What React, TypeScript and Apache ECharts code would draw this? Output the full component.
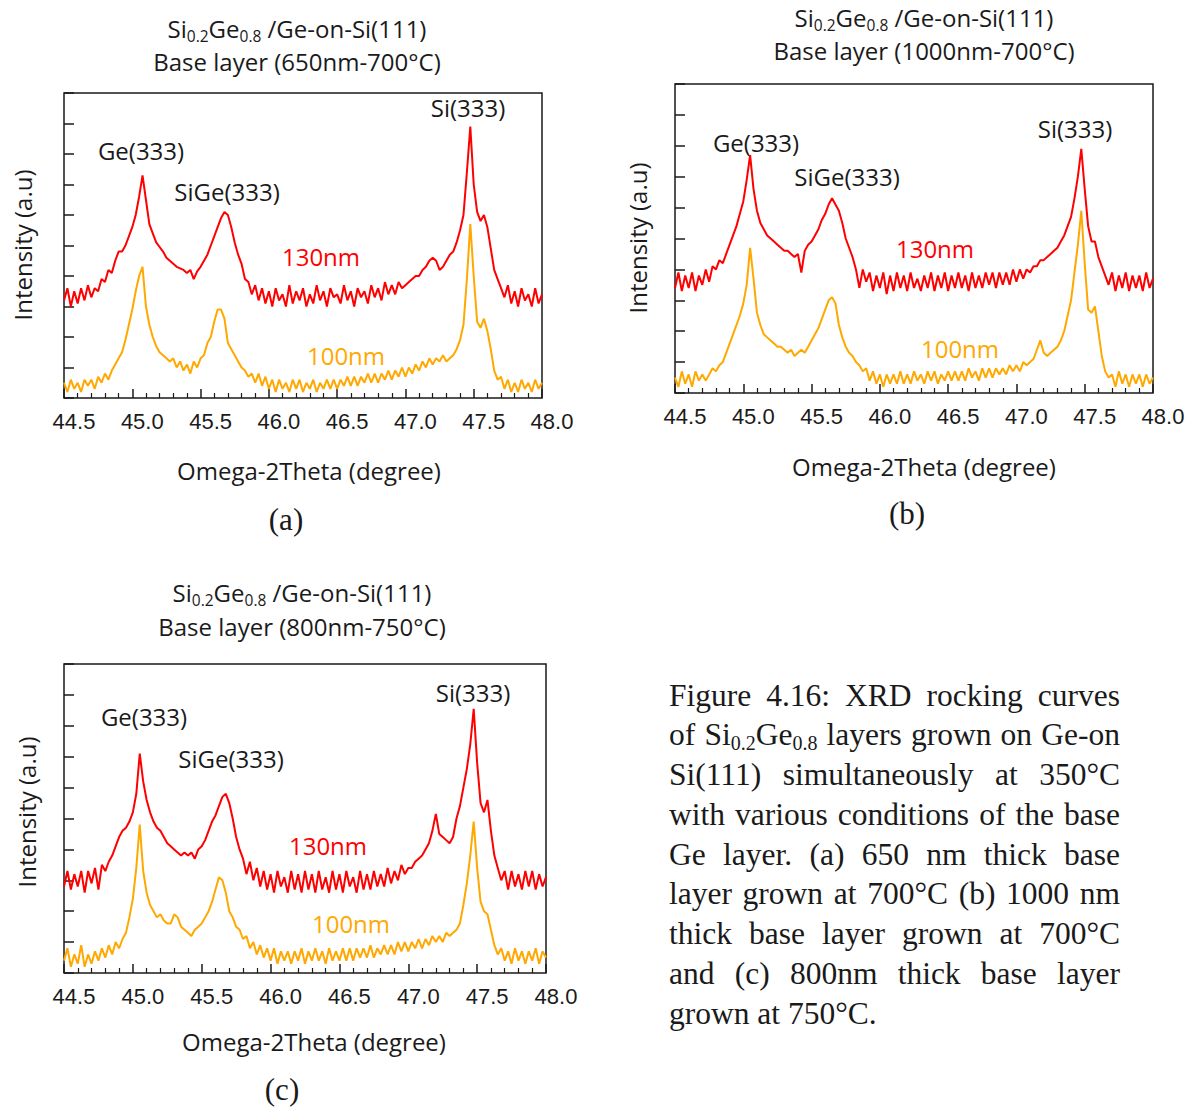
import React, { useEffect, useRef } from 'react';
import * as echarts from 'echarts';

// ---------- data ----------
const X_MIN = 44.5;
const X_MAX = 48.0;
const X_STEP = 0.025;
const xTickLabels = ['44.5', '45.0', '45.5', '46.0', '46.5', '47.0', '47.5', '48.0'];
const xSamples = Array.from({ length: 141 }, (_, i) => Number((X_MIN + i * X_STEP).toFixed(3)));

// panel (a) 650nm-700°C
const aRed130 = [
  3.2, 3.6, 3.0, 3.5, 3.1, 3.6, 3.2, 3.7, // 44.5
  3.3, 3.6, 3.5, 3.9, 3.8, 4.2, 4.1, 4.5, // 44.7
  4.8, 4.8, 5.0, 5.3, 5.6, 6.0, 6.6, 7.3, // 44.9
  6.5, 5.7, 5.4, 5.1, 4.95, 4.8, 4.6, 4.5, // 45.1
  4.4, 4.3, 4.25, 4.2, 4.1, 4.2, 3.9, 4.15, // 45.3
  4.3, 4.5, 4.7, 5.0, 5.3, 5.6, 5.9, 6.1, // 45.5
  6.0, 5.6, 5.1, 4.7, 4.4, 3.9, 3.8, 3.4, // 45.7
  3.7, 3.2, 3.6, 3.1, 3.5, 3.0, 3.6, 3.2, // 45.9
  3.4, 3.0, 3.7, 3.1, 3.5, 3.2, 3.6, 3.0, // 46.1
  3.4, 3.1, 3.7, 3.2, 3.5, 3.0, 3.6, 3.3, // 46.3
  3.4, 3.1, 3.7, 3.2, 3.5, 3.0, 3.6, 3.3, // 46.5
  3.5, 3.1, 3.7, 3.3, 3.6, 3.2, 3.8, 3.4, // 46.7
  3.7, 3.4, 3.8, 3.6, 3.7, 3.8, 3.9, 4.0, // 46.9
  4.0, 4.2, 4.3, 4.5, 4.6, 4.5, 4.2, 4.3, // 47.1
  4.5, 4.7, 4.8, 5.1, 5.5, 6.0, 7.4, 8.9, // 47.3
  7.0, 6.1, 5.8, 6.0, 5.6, 4.9, 4.2, 3.9, // 47.5
  3.6, 3.3, 3.7, 3.1, 3.5, 3.0, 3.6, 3.2, // 47.7
  3.4, 3.0, 3.6, 3.1, 3.4, // 47.9 - 48.0
];
const aOrange100 = [
  0.5, 0.2, 0.6, 0.3, 0.5, 0.2, 0.6, 0.4, // 44.5
  0.6, 0.3, 0.7, 0.5, 0.8, 0.6, 0.9, 1.1, // 44.7
  1.3, 1.5, 1.9, 2.4, 2.9, 3.5, 4.0, 4.3, // 44.9
  3.0, 2.4, 2.0, 1.7, 1.5, 1.4, 1.3, 1.2, // 45.1
  1.3, 1.0, 1.2, 0.9, 1.1, 0.8, 1.2, 1.0, // 45.3
  1.3, 1.4, 1.8, 2.0, 2.5, 2.9, 2.9, 2.6, // 45.5
  1.8, 1.6, 1.4, 1.2, 1.0, 0.9, 0.7, 0.8, // 45.7
  0.5, 0.8, 0.4, 0.7, 0.3, 0.6, 0.2, 0.6, // 45.9
  0.3, 0.5, 0.2, 0.6, 0.3, 0.6, 0.2, 0.5, // 46.1
  0.3, 0.6, 0.2, 0.5, 0.3, 0.6, 0.3, 0.6, // 46.3
  0.3, 0.6, 0.4, 0.7, 0.4, 0.7, 0.4, 0.7, // 46.5
  0.5, 0.8, 0.5, 0.8, 0.5, 0.8, 0.6, 0.9, // 46.7
  0.6, 0.9, 0.7, 1.0, 0.7, 1.0, 0.8, 1.1, // 46.9
  0.9, 1.2, 1.0, 1.3, 1.1, 1.3, 1.2, 1.4, // 47.1
  1.2, 1.3, 1.4, 1.6, 1.9, 2.4, 3.9, 5.7, // 47.3
  4.0, 2.5, 2.3, 2.6, 2.2, 1.6, 0.9, 0.6, // 47.5
  0.7, 0.3, 0.6, 0.2, 0.5, 0.2, 0.6, 0.3, // 47.7
  0.5, 0.2, 0.6, 0.3, 0.5, // 47.9 - 48.0
];

// panel (b) 1000nm-700°C
const bRed130 = [
  3.4, 3.9, 3.3, 3.8, 3.4, 3.9, 3.3, 3.8, // 44.5
  3.5, 4.0, 3.6, 4.1, 4.0, 4.3, 4.2, 4.5, // 44.7
  4.8, 5.1, 5.4, 5.8, 6.2, 6.9, 7.7, 6.6, // 44.9
  5.9, 5.5, 5.3, 5.1, 5.0, 4.9, 4.8, 4.7, // 45.1
  4.6, 4.6, 4.5, 4.4, 4.5, 3.9, 4.6, 4.8, // 45.3
  4.9, 5.1, 5.3, 5.6, 5.8, 6.1, 6.3, 6.1, // 45.5
  5.9, 5.5, 5.0, 4.7, 4.4, 4.0, 3.4, 4.0, // 45.7
  3.6, 3.9, 3.3, 3.8, 3.4, 3.9, 3.2, 3.8, // 45.9
  3.3, 3.9, 3.4, 3.8, 3.3, 3.9, 3.4, 3.7, // 46.1
  3.3, 3.8, 3.4, 3.9, 3.3, 3.8, 3.4, 3.9, // 46.3
  3.3, 3.8, 3.4, 3.9, 3.4, 3.8, 3.3, 3.9, // 46.5
  3.4, 3.8, 3.4, 3.9, 3.5, 3.9, 3.4, 3.9, // 46.7
  3.5, 3.9, 3.5, 4.0, 3.6, 4.0, 3.7, 4.0, // 46.9
  3.9, 4.1, 4.1, 4.3, 4.3, 4.4, 4.5, 4.6, // 47.1
  4.7, 4.9, 5.1, 5.4, 5.7, 6.3, 7.0, 7.9, // 47.3
  6.6, 5.4, 4.9, 4.9, 4.4, 4.1, 3.8, 3.5, // 47.5
  3.9, 3.3, 3.8, 3.4, 3.9, 3.3, 3.8, 3.4, // 47.7
  3.8, 3.3, 3.9, 3.4, 3.7, // 47.9 - 48.0
];
const bOrange100 = [
  0.5, 0.2, 0.7, 0.3, 0.6, 0.2, 0.7, 0.4, // 44.5
  0.6, 0.4, 0.6, 0.8, 0.7, 0.9, 1.0, 1.3, // 44.7
  1.6, 1.9, 2.2, 2.5, 2.9, 3.5, 4.7, 3.7, // 44.9
  2.6, 2.2, 1.9, 1.8, 1.7, 1.6, 1.5, 1.5, // 45.1
  1.4, 1.3, 1.4, 1.2, 1.3, 1.4, 1.3, 1.5, // 45.3
  1.7, 1.9, 2.1, 2.4, 2.7, 3.0, 3.1, 2.9, // 45.5
  2.2, 1.8, 1.5, 1.3, 1.2, 1.0, 0.9, 0.7, // 45.7
  0.8, 0.4, 0.7, 0.3, 0.6, 0.2, 0.6, 0.3, // 45.9
  0.6, 0.3, 0.7, 0.3, 0.6, 0.3, 0.7, 0.4, // 46.1
  0.6, 0.3, 0.7, 0.4, 0.7, 0.3, 0.6, 0.4, // 46.3
  0.7, 0.4, 0.7, 0.4, 0.7, 0.4, 0.8, 0.5, // 46.5
  0.7, 0.4, 0.8, 0.5, 0.8, 0.5, 0.8, 0.6, // 46.7
  0.8, 0.6, 0.9, 0.7, 0.9, 0.7, 1.0, 0.9, // 46.9
  1.0, 1.1, 1.4, 1.7, 1.3, 1.2, 1.3, 1.4, // 47.1
  1.5, 1.7, 2.0, 2.5, 3.0, 3.9, 4.8, 5.9, // 47.3
  4.2, 2.7, 2.6, 2.8, 2.0, 1.2, 0.7, 0.5, // 47.5
  0.6, 0.2, 0.7, 0.3, 0.6, 0.2, 0.6, 0.3, // 47.7
  0.6, 0.2, 0.6, 0.3, 0.5, // 47.9 - 48.0
];

// panel (c) 800nm-750°C
const cRed130 = [
  2.8, 3.3, 2.7, 3.2, 2.8, 3.3, 2.6, 3.3, // 44.5
  2.9, 3.4, 2.7, 3.5, 3.3, 3.6, 3.8, 4.1, // 44.7
  4.4, 4.6, 4.7, 4.9, 5.2, 5.8, 7.1, 6.2, // 44.9
  5.6, 5.2, 4.9, 4.7, 4.6, 4.4, 4.2, 4.1, // 45.1
  4.0, 3.9, 3.8, 3.9, 3.8, 3.9, 3.7, 4.0, // 45.3
  4.1, 4.3, 4.6, 4.9, 5.1, 5.4, 5.7, 5.8, // 45.5
  5.5, 5.0, 4.4, 4.0, 3.7, 3.2, 3.6, 3.0, // 45.7
  3.4, 2.8, 3.3, 2.7, 3.2, 2.6, 3.3, 2.8, // 45.9
  3.1, 2.6, 3.3, 2.7, 3.2, 2.6, 3.3, 2.7, // 46.1
  3.2, 2.6, 3.3, 2.7, 3.1, 2.6, 3.3, 2.7, // 46.3
  3.2, 2.6, 3.3, 2.8, 3.1, 2.6, 3.3, 2.7, // 46.5
  3.2, 2.7, 3.3, 2.8, 3.2, 2.8, 3.4, 2.9, // 46.7
  3.3, 3.0, 3.5, 3.2, 3.4, 3.4, 3.6, 3.7, // 46.9
  3.8, 4.0, 4.2, 4.6, 5.15, 4.5, 4.4, 4.3, // 47.1
  4.2, 4.4, 5.0, 5.4, 6.0, 6.6, 7.4, 8.55, // 47.3
  6.8, 5.5, 5.2, 5.6, 4.6, 3.8, 3.4, 3.0, // 47.5
  3.3, 2.7, 3.3, 2.8, 3.2, 2.7, 3.3, 2.8, // 47.7
  3.3, 2.7, 3.2, 2.8, 3.1, // 47.9 - 48.0
];
const cOrange100 = [
  0.4, 0.8, 0.2, 0.6, 0.3, 0.9, 0.2, 0.6, // 44.5
  0.3, 0.7, 0.4, 0.8, 0.5, 0.9, 0.6, 1.0, // 44.7
  0.8, 1.1, 1.3, 1.8, 2.4, 3.4, 4.8, 3.3, // 44.9
  2.6, 2.2, 2.0, 1.8, 1.9, 1.7, 1.6, 1.6, // 45.1
  1.9, 1.8, 1.5, 1.4, 1.3, 1.2, 1.4, 1.5, // 45.3
  1.6, 1.8, 2.0, 2.3, 2.7, 3.1, 3.0, 2.6, // 45.5
  2.0, 1.8, 1.5, 1.4, 1.1, 1.2, 0.8, 1.0, // 45.7
  0.6, 0.9, 0.5, 0.8, 0.4, 0.8, 0.3, 0.7, // 45.9
  0.4, 0.7, 0.3, 0.7, 0.4, 0.8, 0.3, 0.7, // 46.1
  0.4, 0.8, 0.4, 0.7, 0.3, 0.8, 0.4, 0.7, // 46.3
  0.4, 0.8, 0.4, 0.8, 0.4, 0.8, 0.5, 0.8, // 46.5
  0.5, 0.9, 0.5, 0.8, 0.6, 0.9, 0.6, 0.9, // 46.7
  0.6, 1.0, 0.7, 1.0, 0.7, 1.0, 0.8, 1.1, // 46.9
  0.8, 1.1, 0.9, 1.2, 1.0, 1.2, 1.0, 1.3, // 47.1
  1.2, 1.3, 1.4, 1.6, 2.2, 2.9, 3.8, 4.9, // 47.3
  3.4, 2.3, 2.0, 1.9, 1.4, 0.9, 0.6, 0.8, // 47.5
  0.4, 0.7, 0.3, 0.8, 0.4, 0.7, 0.3, 0.7, // 47.7
  0.4, 0.8, 0.3, 0.7, 0.5, // 47.9 - 48.0
];

const seriesNames = ['130nm', '100nm'];
const peakNames = ['Ge(333)', 'SiGe(333)', 'Si(333)'];
const titleLine1 = '{n|Si}{s|0.2}{n|Ge}{s|0.8}{n| /Ge-on-Si(111)}';
const titleLine2 = ['Base layer (650nm-700°C)', 'Base layer (1000nm-700°C)', 'Base layer (800nm-750°C)'];
const panelLetters = ['(a)', '(b)', '(c)'];
const yName = 'Intensity (a.u)';
const xName = 'Omega-2Theta (degree)';

const captionLines = [
  'Figure 4.16: XRD rocking curves',
  'of Si_{0.2}Ge_{0.8} layers grown on Ge-on',
  'Si(111) simultaneously at 350°C',
  'with various conditions of the base',
  'Ge layer. (a) 650 nm thick base',
  'layer grown at 700°C (b) 1000 nm',
  'thick base layer grown at 700°C',
  'and (c) 800nm thick base layer',
  'grown at 750°C.',
];

// ---------- layout / style ----------
const SANS = '"Open Sans", "Noto Sans", sans-serif';
const NUM = '"Liberation Sans", Arial, sans-serif';
const SERIF = '"Liberation Serif", "Times New Roman", serif';
const INK = '#1a1a1a';
const RED = '#ff0000';
const ORANGE = '#ffa800';
const FS = 24;

const panels = [
  {
    red: aRed130, orange: aOrange100,
    grid: { left: 64, top: 93, width: 478, height: 305 },
    t1: [297, 28], t2: [297, 61], yn: [22, 245], xn: [309, 470], letter: [286, 519],
    peaks: [[141, 150], [227, 191], [468, 107]], lab130: [321, 256], lab100: [346, 355],
  },
  {
    red: bRed130, orange: bOrange100,
    grid: { left: 675, top: 84, width: 478, height: 309 },
    t1: [924, 17], t2: [924, 50], yn: [637, 238], xn: [924, 466], letter: [907, 513],
    peaks: [[756, 142], [847, 176], [1075, 128]], lab130: [935, 248], lab100: [960, 348],
  },
  {
    red: cRed130, orange: cOrange100,
    grid: { left: 64, top: 664, width: 482, height: 309 },
    t1: [302, 592], t2: [302, 626], yn: [26, 812], xn: [314, 1041], letter: [282, 1089],
    peaks: [[144, 716], [231, 758], [473, 692]], lab130: [328, 845], lab100: [351, 923],
  },
];

const CAP_LEFT = 669;
const CAP_RIGHT = 1120;
const CAP_TOP = 695;
const CAP_STEP = 39.75;
const CAP_SIZE = 31.5;
const CAP_SUB = 20;

function txt(x: number, y: number, text: string, size: number, family: string, fill: string, extra: any = {}) {
  return {
    type: 'text', x, y, silent: true, ...extra,
    style: { text, fontSize: size, fontFamily: family, fill, align: 'center', verticalAlign: 'middle' },
  };
}

function buildCaption(): any[] {
  const ctx = document.createElement('canvas').getContext('2d')!;
  const mainFont = `${CAP_SIZE}px "Liberation Serif"`;
  const subFont = `${CAP_SUB}px "Liberation Serif"`;
  const measure = (s: string, f: string) => { ctx.font = f; return ctx.measureText(s).width; };
  const els: any[] = [];
  captionLines.forEach((line, li) => {
    const words = line.split(' ');
    const parsed = words.map((w) => {
      const parts = w.split(/(_\{[^}]*\})/).filter((p) => p.length > 0);
      let width = 0;
      let rich = '';
      let hasSub = false;
      parts.forEach((p) => {
        if (p.startsWith('_{')) {
          const s = p.slice(2, -1);
          width += measure(s, subFont);
          rich += `{s|${s}}`;
          hasSub = true;
        } else {
          width += measure(p, mainFont);
          rich += `{n|${p}}`;
        }
      });
      return { w, width, rich, hasSub };
    });
    const total = parsed.reduce((a, b) => a + b.width, 0);
    const isLast = li === captionLines.length - 1;
    const gap = isLast || parsed.length < 2 ? measure(' ', mainFont) : (CAP_RIGHT - CAP_LEFT - total) / (parsed.length - 1);
    let x = CAP_LEFT;
    const y = CAP_TOP + li * CAP_STEP;
    parsed.forEach((p) => {
      if (p.hasSub) {
        els.push({
          type: 'text', x, y, silent: true,
          style: {
            text: p.rich, align: 'left', verticalAlign: 'middle', fill: INK,
            fontSize: CAP_SIZE, fontFamily: SERIF,
            rich: {
              n: { fontSize: CAP_SIZE, fontFamily: SERIF, fill: INK, lineHeight: 36 },
              s: { fontSize: CAP_SUB, fontFamily: SERIF, fill: INK, verticalAlign: 'bottom', lineHeight: 23 },
            },
          },
        });
      } else {
        els.push({
          type: 'text', x, y, silent: true,
          style: { text: p.w, align: 'left', verticalAlign: 'middle', fill: INK, fontSize: CAP_SIZE, fontFamily: SERIF },
        });
      }
      x += p.width + gap;
    });
  });
  return els;
}

function buildOption() {
  const graphic: any[] = [];
  panels.forEach((p, i) => {
    graphic.push({
      type: 'text', x: p.t1[0], y: p.t1[1], silent: true,
      style: {
        text: titleLine1, align: 'center', verticalAlign: 'middle', fill: INK, fontSize: FS, fontFamily: SANS,
        rich: {
          n: { fontSize: FS, fontFamily: SANS, fill: INK, lineHeight: 31 },
          s: { fontSize: 15.5, fontFamily: SANS, fill: INK, verticalAlign: 'bottom', lineHeight: 20 },
        },
      },
    });
    graphic.push(txt(p.t2[0], p.t2[1], titleLine2[i], FS, SANS, INK));
    graphic.push(txt(p.yn[0], p.yn[1], yName, FS, SANS, INK, { rotation: Math.PI / 2 }));
    graphic.push(txt(p.xn[0], p.xn[1], xName, FS, SANS, INK));
    graphic.push(txt(p.letter[0], p.letter[1], panelLetters[i], 31, SERIF, INK));
    peakNames.forEach((name, k) => graphic.push(txt(p.peaks[k][0], p.peaks[k][1], name, FS, SANS, INK)));
    graphic.push(txt(p.lab130[0], p.lab130[1], seriesNames[0], FS, SANS, RED));
    graphic.push(txt(p.lab100[0], p.lab100[1], seriesNames[1], FS, SANS, ORANGE));
  });
  graphic.push(...buildCaption());

  const series: any[] = [];
  panels.forEach((p, i) => {
    series.push({
      type: 'line', name: `${panelLetters[i]} ${seriesNames[0]}`, xAxisIndex: i, yAxisIndex: i,
      data: xSamples.map((x, k) => [x, p.red[k]]), showSymbol: false, symbol: 'none', silent: true,
      lineStyle: { color: RED, width: 2 }, itemStyle: { color: RED }, z: 2,
    });
    series.push({
      type: 'line', name: `${panelLetters[i]} ${seriesNames[1]}`, xAxisIndex: i, yAxisIndex: i,
      data: xSamples.map((x, k) => [x, p.orange[k]]), showSymbol: false, symbol: 'none', silent: true,
      lineStyle: { color: ORANGE, width: 2 }, itemStyle: { color: ORANGE }, z: 3,
    });
  });

  return {
    animation: false,
    backgroundColor: '#ffffff',
    grid: panels.map((p) => ({ ...p.grid, show: true, borderColor: INK, borderWidth: 1.5, backgroundColor: 'transparent' })),
    xAxis: panels.map((_, i) => ({
      type: 'value', gridIndex: i, min: X_MIN, max: X_MAX, interval: 0.5,
      axisLine: { show: false },
      axisTick: { show: true, inside: true, length: 9, lineStyle: { color: INK, width: 1.5 } },
      minorTick: { show: true, splitNumber: 5, length: 5, lineStyle: { color: INK, width: 1.2 } },
      splitLine: { show: false },
      minorSplitLine: { show: false },
      axisLabel: {
        margin: 12, fontSize: 22, fontFamily: NUM, color: INK, padding: [0, 0, 0, 20],
        formatter: (v: number) => xTickLabels[Math.round((v - X_MIN) / 0.5)] ?? v.toFixed(1),
      },
    })),
    yAxis: panels.map((_, i) => ({
      type: 'value', gridIndex: i, min: 0, max: 10, interval: 1,
      axisLine: { show: false },
      axisTick: { show: true, inside: true, length: 10, lineStyle: { color: INK, width: 1.5 } },
      axisLabel: { show: false },
      splitLine: { show: false },
    })),
    series,
    graphic,
  };
}

export default function App() {
  const ref = useRef<HTMLDivElement>(null);
  useEffect(() => {
    document.body.style.margin = '0';
    if (!ref.current) return;
    const chart = echarts.init(ref.current, undefined, { renderer: 'svg' });
    chart.setOption(buildOption() as any);
    return () => chart.dispose();
  }, []);
  return <div ref={ref} style={{ width: 1194, height: 1109, background: '#fff' }} />;
}
